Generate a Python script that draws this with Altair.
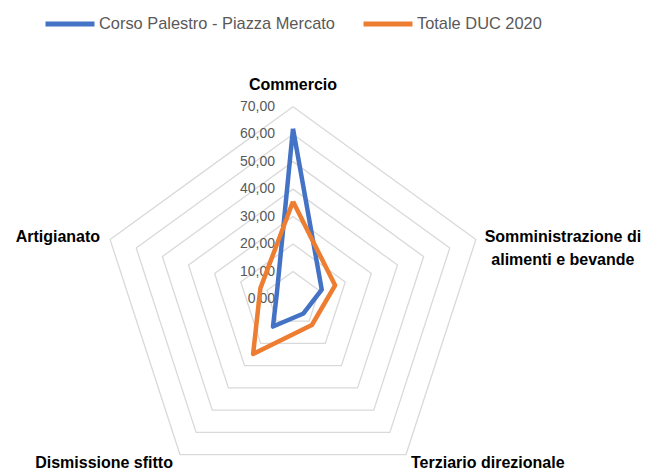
import math
import altair as alt
import pandas as pd

# ---- data ----
categories = ["Commercio", "Somministrazione di\nalimenti e bevande",
              "Terziario direzionale", "Dismissione sfitto", "Artigianato"]
series_names = ["Corso Palestro - Piazza Mercato", "Totale DUC 2020"]
corso = [62.0, 11.0, 6.5, 12.4, 6.2]
totale = [35.5, 16.1, 11.7, 24.7, 12.5]
tick_values = [0, 10, 20, 30, 40, 50, 60, 70]
tick_labels = ["0,00", "10,00", "20,00", "30,00", "40,00", "50,00", "60,00", "70,00"]
series_colors = ["#4472C4", "#ED7D31"]

N = len(categories)
RMAX = tick_values[-1]

# ---- tables built from the arrays ----
line_rows = []
for name, vals in zip(series_names, [corso, totale]):
    for i in range(N + 1):
        line_rows.append({"serie": name, "i": i, "value": vals[i % N]})
lines_df = pd.DataFrame(line_rows)

grid_rows = []
for v in tick_values[1:]:
    for i in range(N + 1):
        grid_rows.append({"ring": v, "i": i})
grid_df = pd.DataFrame(grid_rows)

ticks_df = pd.DataFrame({"v": tick_values, "label": tick_labels})
cat_df = pd.DataFrame({"cat": categories, "i": list(range(N)), "r": [RMAX] * N})

# ---- layout (plot area in px) ----
W, H = 645, 465
CX, CY = 285, 291          # centre in px
K = 2.747                  # px per unit
xscale = alt.Scale(domain=[-CX / K, (W - CX) / K], nice=False, zero=False)
yscale = alt.Scale(domain=[-(H - CY) / K, CY / K], nice=False, zero=False)

ANG = "PI/2 - 2*PI*datum.i/%d" % N

grid = alt.Chart(grid_df).transform_calculate(
    a=ANG
).transform_calculate(
    x="datum.ring*cos(datum.a)", y="datum.ring*sin(datum.a)"
).mark_line(color="#d9d9d9", strokeWidth=1.3).encode(
    x=alt.X("x:Q", scale=xscale, axis=None),
    y=alt.Y("y:Q", scale=yscale, axis=None),
    detail="ring:N",
    order="i:Q",
)

ticks = alt.Chart(ticks_df).transform_calculate(x="0").mark_text(
    align="right", baseline="middle", dx=-18, font="Liberation Sans",
    fontSize=14, color="#595959"
).encode(
    x=alt.X("x:Q", scale=xscale, axis=None),
    y=alt.Y("v:Q", scale=yscale, axis=None),
    text="label:N",
)

lines = alt.Chart(lines_df).transform_calculate(
    a=ANG
).transform_calculate(
    x="datum.value*cos(datum.a)", y="datum.value*sin(datum.a)"
).mark_line(strokeWidth=4.5, strokeJoin="round").encode(
    x=alt.X("x:Q", scale=xscale, axis=None),
    y=alt.Y("y:Q", scale=yscale, axis=None),
    order="i:Q",
    color=alt.Color(
        "serie:N",
        scale=alt.Scale(domain=series_names, range=series_colors),
        legend=alt.Legend(
            title=None, orient="none", direction="horizontal",
            legendX=35, legendY=-11, padding=0,
            symbolType="stroke", symbolSize=2401, symbolStrokeWidth=5,
            labelFont="Liberation Sans", labelFontSize=16.4, labelLimit=0,
            labelColor="#595959", labelOffset=2, columnPadding=18,
        ),
    ),
)

label_specs = [
    dict(align="center", dx=0, dy=-21.7),
    dict(align="center", dx=87, dy=-3),
    dict(align="left", dx=5, dy=8),
    dict(align="right", dx=-7, dy=8),
    dict(align="right", dx=-10, dy=-3),
]
label_layers = []
for cat, spec in zip(categories, label_specs):
    label_layers.append(
        alt.Chart(cat_df).transform_filter(
            alt.datum.cat == cat
        ).transform_calculate(
            a=ANG
        ).transform_calculate(
            x="datum.r*cos(datum.a)", y="datum.r*sin(datum.a)"
        ).mark_text(
            baseline="middle", font="Liberation Sans", fontWeight="bold",
            fontSize=16, color="#000000", lineBreak="\n", lineHeight=23, **spec
        ).encode(
            x=alt.X("x:Q", scale=xscale, axis=None),
            y=alt.Y("y:Q", scale=yscale, axis=None),
            text="cat:N",
        )
    )

chart = alt.layer(grid, ticks, lines, *label_layers).properties(
    width=W, height=H, padding=0,
    autosize=alt.AutoSizeParams(type="none"),
).configure_view(stroke=None)

chart.save("out.html", embed_options={"renderer": "svg", "actions": False})
